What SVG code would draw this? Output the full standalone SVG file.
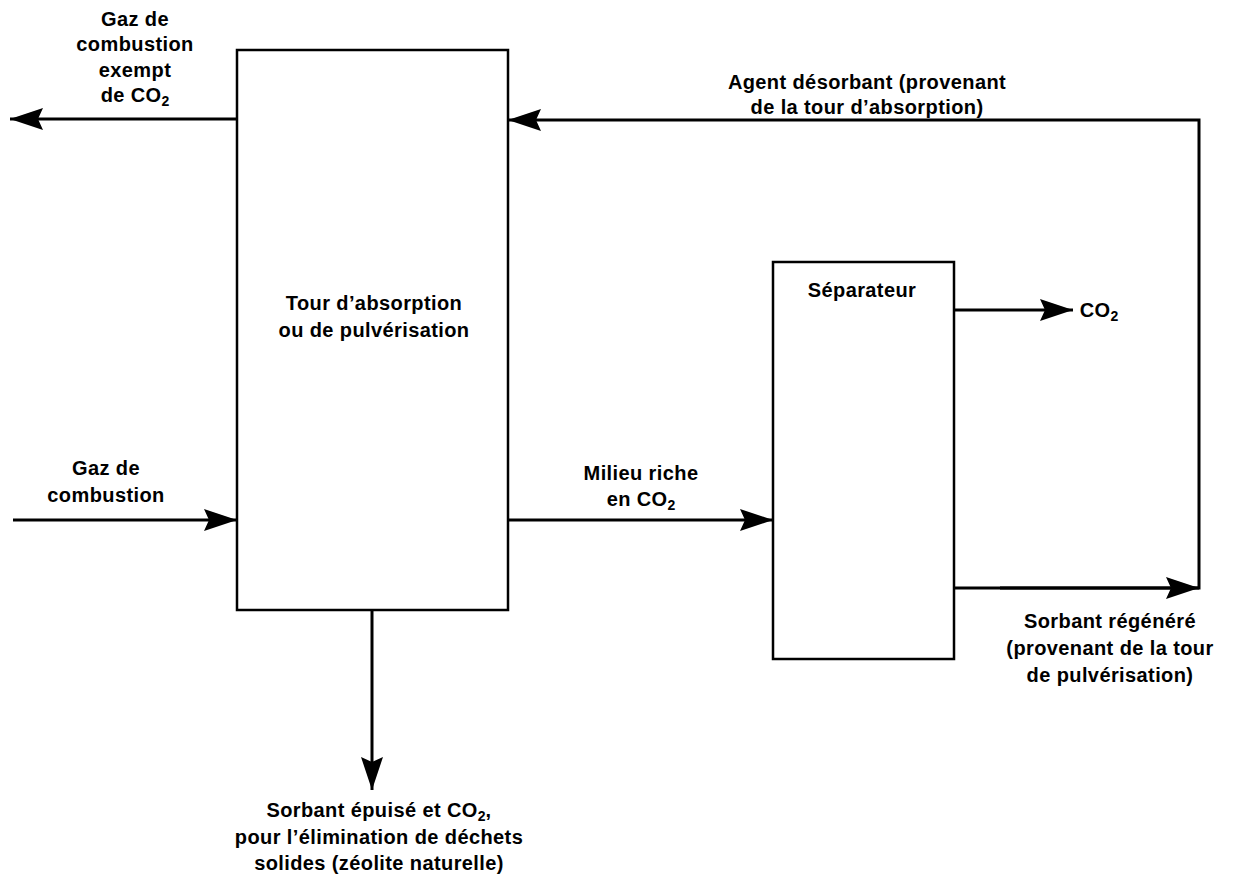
<svg xmlns="http://www.w3.org/2000/svg" width="1233" height="884" viewBox="0 0 1233 884">
<style>
.box{fill:#fff;stroke:#000;stroke-width:2.5}
.ln{fill:none;stroke:#000;stroke-width:3}
text{font-family:"Liberation Sans",Arial,sans-serif;font-weight:bold;font-size:20px;letter-spacing:0.4px;fill:#000;text-anchor:middle}
.sub{font-size:14px;letter-spacing:0}
</style>
<defs>
<marker id="ah" markerUnits="userSpaceOnUse" markerWidth="34" markerHeight="22" refX="33" refY="11" orient="auto">
<path d="M0,0 L33,11 L0,22 L5,11 Z" fill="#000"/>
</marker>
</defs>
<g id="connectors">
<line class="ln" x1="237" y1="119" x2="10" y2="119" marker-end="url(#ah)"/>
<polyline class="ln" points="1000,588 1199,588 1199,120 508,120" marker-end="url(#ah)"/>
<line class="ln" x1="954" y1="588" x2="1199" y2="588" marker-end="url(#ah)"/>
<line class="ln" x1="954" y1="310" x2="1073" y2="310" marker-end="url(#ah)"/>
<line class="ln" x1="13" y1="520" x2="237" y2="520" marker-end="url(#ah)"/>
<line class="ln" x1="508" y1="520" x2="773" y2="520" marker-end="url(#ah)"/>
<line class="ln" x1="372" y1="610" x2="372" y2="790" marker-end="url(#ah)"/>
</g>
<g id="tour">
<rect class="box" x="237" y="50" width="271" height="560"/>
<text x="374" y="310">Tour d’absorption</text>
<text x="374" y="337">ou de pulvérisation</text>
</g>
<g id="separateur">
<rect class="box" x="773" y="262" width="181" height="397"/>
<text x="862" y="297">Séparateur</text>
</g>
<g id="label-gaz-exempt">
<text x="135" y="26">Gaz de</text>
<text x="135" y="51">combustion</text>
<text x="135" y="77">exempt</text>
<text x="135" y="102">de CO<tspan class="sub" dy="4">2</tspan></text>
</g>
<g id="label-agent">
<text x="867" y="89">Agent désorbant (provenant</text>
<text x="867" y="114">de la tour d’absorption)</text>
</g>
<g id="label-co2">
<text x="1099" y="317">CO<tspan class="sub" dy="4">2</tspan></text>
</g>
<g id="label-gaz">
<text x="106" y="475">Gaz de</text>
<text x="106" y="502">combustion</text>
</g>
<g id="label-milieu">
<text x="641" y="480">Milieu riche</text>
<text x="641" y="506">en CO<tspan class="sub" dy="4">2</tspan></text>
</g>
<g id="label-sorbant-regenere">
<text x="1110" y="628">Sorbant régénéré</text>
<text x="1110" y="655">(provenant de la tour</text>
<text x="1110" y="682">de pulvérisation)</text>
</g>
<g id="label-sorbant-epuise">
<text x="379" y="817">Sorbant épuisé et CO<tspan class="sub" dy="4">2</tspan><tspan dy="-4">,</tspan></text>
<text x="379" y="844">pour l’élimination de déchets</text>
<text x="379" y="870">solides (zéolite naturelle)</text>
</g>
</svg>
